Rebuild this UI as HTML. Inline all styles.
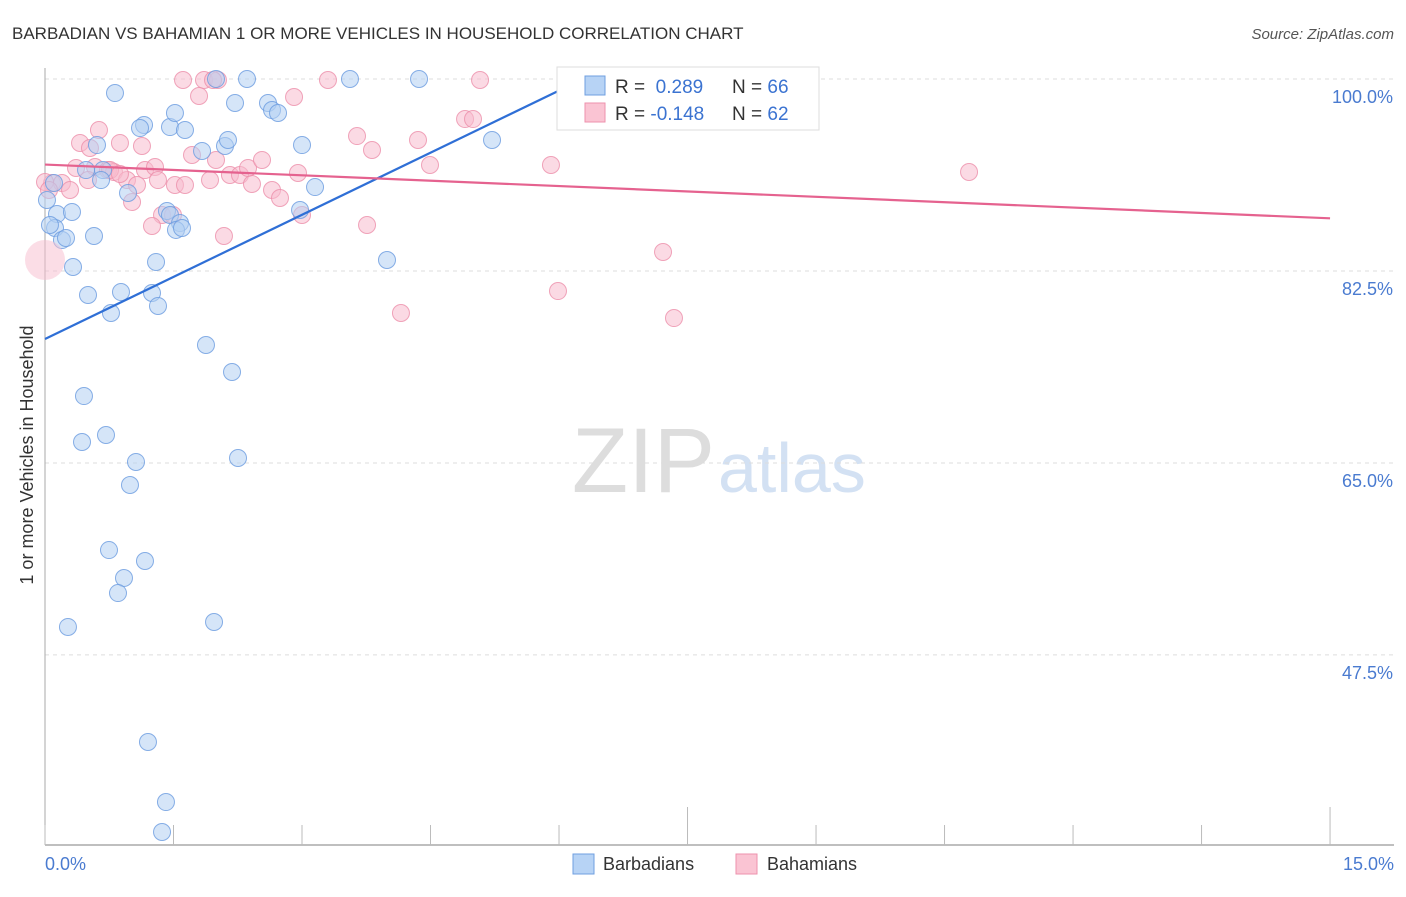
<!DOCTYPE html>
<html><head><meta charset="utf-8"><style>
body{margin:0;background:#fff;font-family:"Liberation Sans",sans-serif}
svg text{font-family:"Liberation Sans",sans-serif}
</style></head><body>
<svg width="1406" height="892">
<text x="12" y="39" font-size="17" fill="#333">BARBADIAN VS BAHAMIAN 1 OR MORE VEHICLES IN HOUSEHOLD CORRELATION CHART</text>
<text x="1394" y="39" font-size="15" fill="#555" text-anchor="end" font-style="italic">Source: ZipAtlas.com</text>
<text x="715" y="492" font-size="92" fill="#ddd" text-anchor="end" font-family="Liberation Serif">ZIP</text>
<text x="718" y="492" font-size="70" fill="#d3e1f3">atlas</text>
<g id="grid"></g>
<g id="axes"></g>
<g id="pts"></g>
<g id="trend"></g>
<text transform="translate(33,455) rotate(-90)" font-size="18" fill="#333" text-anchor="middle">1 or more Vehicles in Household</text>
<text x="45" y="870" font-size="18" fill="#4a7bd0">0.0%</text>
<text x="1394" y="870" font-size="18" fill="#4a7bd0" text-anchor="end">15.0%</text>
<g>
<rect x="557" y="67" width="262" height="63" fill="#fff" stroke="#ddd"/>
<rect x="585" y="76" width="20" height="19" fill="#b7d3f5" stroke="#6f9fe0"/>
<rect x="585" y="103" width="20" height="19" fill="#fac4d3" stroke="#ee92ad"/>
<text x="615" y="93" font-size="19" fill="#333">R = <tspan fill="#3b73d1">&#160;0.289</tspan><tspan x="732">N = </tspan><tspan fill="#3b73d1">66</tspan></text>
<text x="615" y="120" font-size="19" fill="#333">R = <tspan fill="#3b73d1">-0.148</tspan><tspan x="732">N = </tspan><tspan fill="#3b73d1">62</tspan></text>
</g>
<g>
<rect x="573" y="854" width="21" height="20" fill="#b7d3f5" stroke="#6f9fe0"/>
<text x="603" y="870" font-size="18" fill="#333">Barbadians</text>
<rect x="736" y="854" width="21" height="20" fill="#fac4d3" stroke="#ee92ad"/>
<text x="767" y="870" font-size="18" fill="#333">Bahamians</text>
</g>
</svg>
<script>
const yTicks=[100,82.5,65,47.5];
const yTickLabels=["100.0%","82.5%","65.0%","47.5%"];
const xTicks=[0,1.5,3,4.5,6,7.5,9,10.5,12,13.5,15];
const bluePx=[[115,93],[57,214],[72,212],[55,228],[62,240],[66,238],[94,236],[73,267],[88,295],[111,313],[121,292],[152,293],[158,306],[156,262],[103,170],[97,145],[128,193],[144,125],[140,128],[170,127],[175,113],[185,130],[202,151],[225,146],[228,140],[235,103],[216,79],[247,79],[268,103],[272,110],[278,113],[302,145],[315,187],[300,210],[167,211],[170,215],[180,223],[176,230],[182,228],[350,79],[419,79],[492,140],[387,260],[660,79],[206,345],[232,372],[84,396],[82,442],[106,435],[136,462],[130,485],[238,458],[109,550],[145,561],[124,578],[118,593],[68,627],[214,622],[148,742],[166,802],[162,832],[101,180],[86,170],[50,225],[54,183],[47,200]];
const pinkPx=[[52,183],[62,183],[70,190],[80,143],[90,148],[99,130],[95,167],[76,168],[108,170],[114,172],[120,143],[127,180],[132,202],[137,185],[142,146],[145,170],[155,167],[158,180],[175,185],[185,185],[162,215],[173,215],[152,226],[183,80],[204,80],[218,80],[199,96],[213,80],[192,155],[210,180],[216,160],[224,236],[230,175],[240,175],[248,168],[252,184],[262,160],[272,190],[280,198],[294,97],[298,173],[302,215],[328,80],[357,136],[372,150],[367,225],[401,313],[418,140],[430,165],[465,119],[473,119],[480,80],[551,165],[558,291],[663,252],[674,318],[969,172],[45,182],[110,170],[120,174],[88,180],[49,190]];
const blueX=bluePx.map(p=>+((p[0]-45)/85.67).toFixed(3)), blueY=bluePx.map(p=>+(100-(p[1]-79)/10.97).toFixed(2));
const pinkX=pinkPx.map(p=>+((p[0]-45)/85.67).toFixed(3)), pinkY=pinkPx.map(p=>+(100-(p[1]-79)/10.97).toFixed(2));
const blueTrend=[[0,76.3],[6.28,100]];
const pinkTrend=[[0,92.2],[15,87.3]];
const X=v=>45+v*85.67, Y=v=>79+(100-v)*10.97;
const NS="http://www.w3.org/2000/svg";
function mk(t,a,parent){const e=document.createElementNS(NS,t);for(const k in a)e.setAttribute(k,a[k]);document.getElementById(parent).appendChild(e);return e;}
yTicks.forEach((v,i)=>{
 const l=mk('line',{x1:45,x2:1394,y1:Y(v),y2:Y(v),stroke:'#ddd','stroke-dasharray':'4,4'},'grid');
 
 
 const t=mk('text',{x:1393,y:Y(v)+24,'font-size':18,fill:'#4a7bd0','text-anchor':'end'},'grid');t.textContent=yTickLabels[i];
 
 
});
const ax=mk('line',{x1:45,x2:1394,y1:845,y2:845,stroke:'#aaa','stroke-width':1.5},'axes');


const ay=mk('line',{x1:45,x2:45,y1:68,y2:845,stroke:'#aaa'},'axes');


xTicks.forEach((v,i)=>{
 const tall=(i==5||i==10);
 const l=mk('line',{x1:X(v),x2:X(v),y1:tall?807:825,y2:845,stroke:'#bbb'},'axes');
 
 
});
function dots(xs,ys,fill,stroke,name){xs.forEach((x,i)=>{
 const c=mk('circle',{cx:X(x),cy:Y(ys[i]),r:8.5,fill:fill,'fill-opacity':0.55,stroke:stroke,'stroke-opacity':0.8,'stroke-width':1},'pts');
 
 
});}
dots(pinkX,pinkY,'#f8bccd','#ec8eaa','bahamian-point');
dots(blueX,blueY,'#b3cff3','#6a9be0','barbadian-point');
const big=mk('circle',{cx:X(0),cy:Y(83.5),r:20,fill:'#f8bccd','fill-opacity':0.5},'pts');


const b=mk('line',{x1:X(blueTrend[0][0]),y1:Y(blueTrend[0][1]),x2:X(blueTrend[1][0]),y2:Y(blueTrend[1][1]),stroke:'#2f6fd6','stroke-width':2.2},'trend');


const p=mk('line',{x1:X(pinkTrend[0][0]),y1:Y(pinkTrend[0][1]),x2:X(pinkTrend[1][0]),y2:Y(pinkTrend[1][1]),stroke:'#e5628f','stroke-width':2.2},'trend');


</script>
</body></html>
